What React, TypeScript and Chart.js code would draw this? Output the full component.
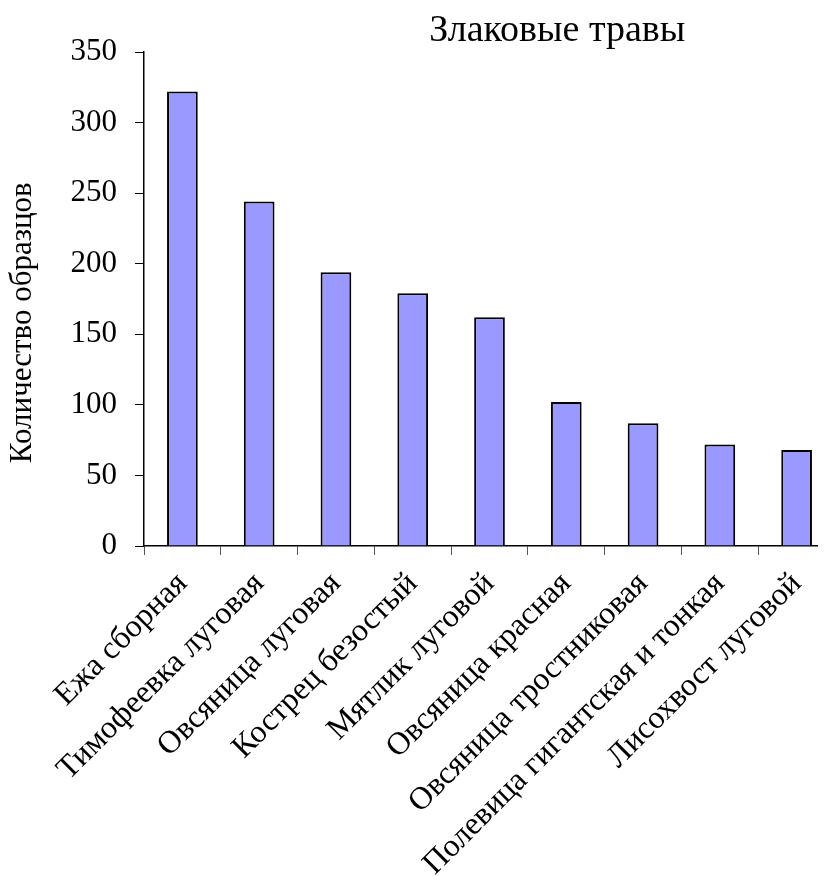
import React, { useEffect, useRef } from "react";
import { Chart, registerables } from "chart.js";

Chart.register(...registerables);

const categories = [
  "Ежа сборная",
  "Тимофеевка луговая",
  "Овсяница луговая",
  "Кострец безостый",
  "Мятлик луговой",
  "Овсяница красная",
  "Овсяница тростниковая",
  "Полевица гигантская и тонкая",
  "Лисохвост луговой",
];
const counts = [322, 244, 194, 179, 162, 102, 87, 72, 68];
const yTicks = [0, 50, 100, 150, 200, 250, 300, 350];
const titleText = "Злаковые травы";
const yTitleText = "Количество образцов";

const FONT = "'Liberation Serif', 'Times New Roman', serif";

const titlesPlugin = {
  id: "customTitles",
  afterDraw(chart: any) {
    const { ctx, chartArea } = chart;
    ctx.save();
    ctx.fillStyle = "#000";
    ctx.font = `38px ${FONT}`;
    ctx.textAlign = "center";
    ctx.textBaseline = "alphabetic";
    const tx = chartArea.left + (chartArea.right - chartArea.left) * 0.598;
    ctx.fillText(titleText, tx, 33);
    ctx.font = `31px ${FONT}`;
    const cy = chartArea.top + (chartArea.bottom - chartArea.top) * 0.548;
    ctx.translate(15, cy);
    ctx.rotate(-Math.PI / 2);
    ctx.textBaseline = "middle";
    ctx.fillText(yTitleText, 0, 0);
    ctx.restore();
  },
};

export default function App() {
  const ref = useRef<HTMLCanvasElement>(null);
  useEffect(() => {
    if (!ref.current) return;
    const chart = new Chart(ref.current, {
      type: "bar",
      data: {
        labels: categories,
        datasets: [
          {
            data: counts,
            backgroundColor: "#9999FF",
            borderColor: "#000000",
            borderWidth: 2,
            categoryPercentage: 1,
            barPercentage: 0.4,
          },
        ],
      },
      plugins: [titlesPlugin],
      options: {
        animation: false,
        responsive: false,
        devicePixelRatio: 1,
        layout: { padding: { top: 44, right: 33, left: 0, bottom: 0 } },
        plugins: {
          legend: { display: false },
          tooltip: { enabled: false },
          title: { display: false },
        },
        scales: {
          x: {
            offset: true,
            grid: {
              offset: true,
              drawOnChartArea: false,
              drawTicks: true,
              tickLength: 9,
              color: "#555",
            },
            border: { color: "#000", width: 1.5 },
            ticks: {
              color: "#000",
              font: { family: FONT, size: 32 },
              minRotation: 45,
              maxRotation: 45,
              padding: 10,
              autoSkip: false,
            },
            afterFit(scale: any) {
              scale.height = 330;
            },
          },
          y: {
            min: 0,
            max: 350,
            afterBuildTicks(scale: any) {
              scale.ticks = yTicks.map((v) => ({ value: v }));
            },
            grid: {
              drawOnChartArea: false,
              drawTicks: true,
              tickLength: 9,
              color: "#000",
            },
            border: { color: "#000", width: 1.5 },
            ticks: {
              color: "#000",
              font: { family: FONT, size: 31 },
              padding: 18,
            },
            afterFit(scale: any) {
              scale.width = 136;
            },
          },
        },
      },
    });
    return () => chart.destroy();
  }, []);
  return (
    <div style={{ width: 818, height: 868, overflow: "hidden" }}>
      <canvas ref={ref} width={860} height={868} style={{ display: "block" }} />
    </div>
  );
}
